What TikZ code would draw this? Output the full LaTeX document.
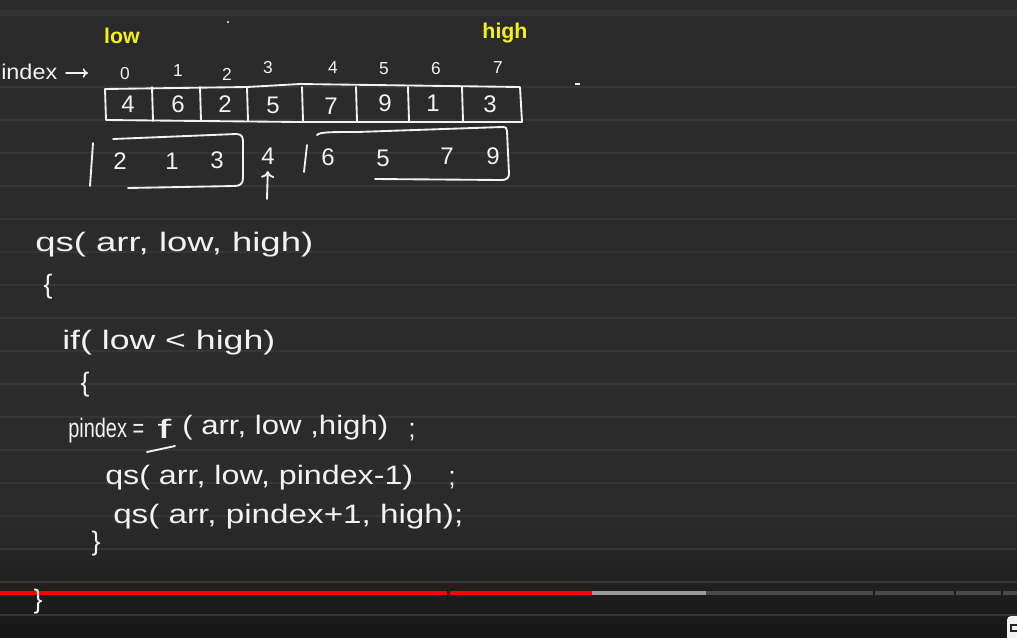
\documentclass[tikz,border=0pt]{standalone}
\usepackage{fontspec}
\setmainfont{Liberation Sans}
\usepackage{graphicx}
\usetikzlibrary{arrows.meta}
\newdimen\pxu \pxu=0.75pt
\newcommand{\hw}[2]{\resizebox{#1\pxu}{\height}{#2}}
\definecolor{bg}{HTML}{2B2B2B}
\definecolor{bgdark}{HTML}{161616}
\definecolor{rule}{HTML}{363636}
\definecolor{ink}{HTML}{F2F2F2}
\definecolor{hy}{HTML}{F4F01A}
\definecolor{barred}{HTML}{FF0000}
\definecolor{bargray}{HTML}{9A9A9A}
\definecolor{bardark}{HTML}{4A4A4A}
\tikzset{
  hand/.style={draw=ink, line width=1.4pt, line cap=round, line join=round},
  code/.style={text=ink, font=\fontsize{20}{22}\selectfont, inner sep=0pt, anchor=west},
  brace/.style={text=ink, font=\fontsize{20}{22}\selectfont, inner sep=0pt},
  digit/.style={text=ink, font=\fontsize{18}{20}\selectfont, inner sep=0pt},
  idx/.style={text=ink, font=\fontsize{13}{15}\selectfont, inner sep=0pt},
  lbl/.style={text=hy, font=\bfseries\fontsize{16}{18}\selectfont, inner sep=0pt},
  ruleline/.style={draw=rule, line width=1.1pt}
}
\begin{document}
\begin{tikzpicture}[x=0.75pt,y=-0.75pt]
\useasboundingbox (0,0) rectangle (1017,637);
% background
\fill[bg] (0,0) rectangle (1017,637);
\fill[black!80] (0,10) rectangle (1017,16);
\shade[top color=bg, bottom color=bgdark] (0,520) rectangle (1017,637);
\foreach \yy in {87,120,...,615} { \draw[ruleline] (0,\yy) -- (1017,\yy); }
% progress bar
\fill[barred] (0,591) rectangle (447,595);
\fill[barred] (450,591) rectangle (592,595);
\fill[bargray] (592,591) rectangle (706,595);
\fill[bardark] (706,591) rectangle (873,595);
\fill[bardark] (875,591) rectangle (954,595);
\fill[bardark] (956,591) rectangle (1001,595);
\fill[bardark] (1003,591) rectangle (1017,595);
% corner icon
\fill[ink, rounded corners=3pt] (1007,616) rectangle (1024,642);
\fill[black!85] (1010,624) rectangle (1017,632);
\fill[ink] (1012,626) rectangle (1017,630);
% stray marks
\fill[ink] (228,22) circle (1.2);
\draw[ink, line width=1pt] (575,84) -- (580,84);

% labels
\node[lbl] (low) at (122,36) {low};
\node[lbl] (high) at (505,33) {high};
\node[code, font=\fontsize{16}{18}\selectfont] (index) at (1,72) {\hw{56}{index}};
\coordinate (idxarrow) at (88,73);
\draw[hand, line width=1.2pt, -{To[length=4pt,width=7pt]}] (66,73) -- (idxarrow);

% index digits
\node[idx] (i0) at (125,74) {0};
\node[idx] (i1) at (178,71) {1};
\node[idx] (i2) at (227,74) {2};
\node[idx] (i3) at (268,68) {3};
\node[idx] (i4) at (333,68) {4};
\node[idx] (i5) at (384,69) {5};
\node[idx] (i6) at (436,69) {6};
\node[idx] (i7) at (498,68) {7};

% array
\draw[hand] (105,89) -- (247,87) -- (300,84) -- (520,87) -- (522,122) -- (300,122) -- (106,120) -- cycle;
\foreach \xx in {152,200,247,302,356,408,462} { \draw[hand] (\xx,87) -- (\xx+1,121); }
\node[digit] (a0) at (128,104) {4};
\node[digit] (a1) at (178,104) {6};
\node[digit] (a2) at (225,104) {2};
\node[digit] (a3) at (273,105) {5};
\node[digit] (a4) at (331,106) {7};
\node[digit] (a5) at (385,103) {9};
\node[digit] (a6) at (433,103) {1};
\node[digit] (a7) at (490,104) {3};

% partitioned row
\node[digit] (l2) at (120,161) {2};
\node[digit] (l1) at (172,161) {1};
\node[digit] (l3) at (217,160) {3};
\node[digit] (p4) at (268,156) {4};
\node[digit] (r6) at (328,157) {6};
\node[digit] (r5) at (383,158) {5};
\node[digit] (r7) at (447,156) {7};
\node[digit] (r9) at (493,156) {9};
\draw[hand] (93,143) -- (90,186);
\draw[hand] (113,139) -- (236,134) .. controls (242,134) and (243,137) .. (243,142) -- (243,178) .. controls (243,184) and (240,186) .. (234,186) -- (128,188);
\draw[hand] (307,145) -- (304,172);
\draw[hand] (317,135) .. controls (320,132) and (330,132) .. (357,132) -- (502,127) .. controls (506,127) and (507,128) .. (507,131) -- (509,174) .. controls (509,178) and (506,180) .. (502,180) -- (375,179);
\coordinate (ptail) at (267,199);
\draw[hand, shorten >=5pt, -{To[length=5pt,width=10pt]}] (ptail) -- (p4.south);

% code
\node[code] (qs1) at (35,245) {\hw{278}{qs( arr, low, high)}};
\node[brace] (b1) at (48,287) {\{};
\node[code] (if1) at (62,343) {\hw{213}{if( low {\char`\<} high)}};
\node[brace] (b2) at (85,385) {\{};
\node[code] (piv) at (68,431) {\hw{76}{pindex =}};
\node[code] (fn) at (157,429) {\hw{14}{f}};
\draw[hand] (147,452) -- (175,446);
\node[code] (fargs) at (182,428) {\hw{206}{( arr, low ,high)}};
\node[brace] (sc1) at (412,432) {;};
\node[code] (qs2) at (105,478) {\hw{308}{qs( arr, low, pindex-1)}};
\node[brace] (sc2) at (452,480) {;};
\node[code] (qs3) at (113,517) {\hw{350}{qs( arr, pindex+1, high);}};
\node[brace] (b3) at (96,544) {\}};
\node[brace] (b4) at (38,602) {\}};
\end{tikzpicture}
\end{document}
